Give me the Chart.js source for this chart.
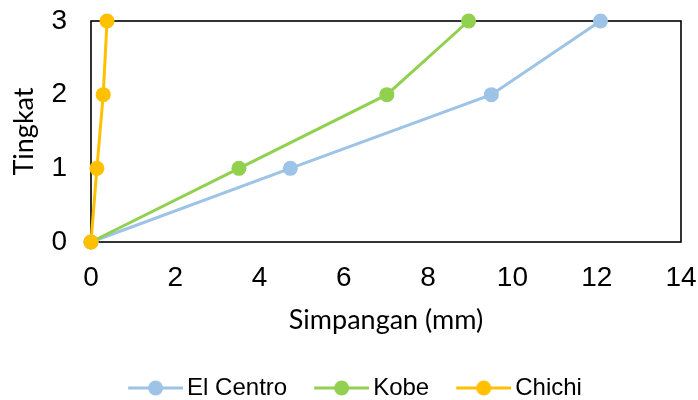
<!DOCTYPE html>
<html>
<head>
<meta charset="utf-8">
<script src="https://cdn.jsdelivr.net/npm/chart.js@4.4.1/dist/chart.umd.min.js"></script>
<style>
  html, body { margin: 0; padding: 0; background: #fff; }
  #c { display: block; }
</style>
</head>
<body>
<canvas id="c" width="698" height="400"></canvas>
<script>
// ---- data ----
const levels    = [0, 1, 2, 3];
const elCentro  = [0, 4.73, 9.50, 12.09];
const kobe      = [0, 3.51, 7.02, 8.96];
const chichi    = [0, 0.14, 0.29, 0.38];
const seriesNames  = ['El Centro', 'Kobe', 'Chichi'];
const seriesColors = ['#9DC3E6', '#92D050', '#FFC000'];
const xTitle = 'Simpangan (mm)';
const yTitle = 'Tingkat';

const seriesValues = [elCentro, kobe, chichi];

function toPoints(xs) {
  return xs.map((x, i) => ({ x: x, y: levels[i] }));
}

function legendMarker(color) {
  const cv = document.createElement('canvas');
  cv.width = 90; cv.height = 18;
  const g = cv.getContext('2d');
  g.strokeStyle = color;
  g.lineWidth = 3;
  g.beginPath();
  g.moveTo(35, 9);
  g.lineTo(90, 9);
  g.stroke();
  g.fillStyle = color;
  g.beginPath();
  g.arc(62.5, 9, 7.5, 0, Math.PI * 2);
  g.fill();
  return cv;
}
const markers = seriesColors.map(legendMarker);

const framePlugin = {
  id: 'frame',
  beforeDatasetsDraw(chart) {
    const a = chart.chartArea;
    const ctx = chart.ctx;
    ctx.save();
    ctx.strokeStyle = '#000';
    ctx.lineWidth = 1.6;
    ctx.strokeRect(a.left, a.top, a.right - a.left, a.bottom - a.top);
    ctx.restore();
  }
};

const datasets = seriesNames.map((name, i) => ({
  label: name,
  data: toPoints(seriesValues[i]),
  showLine: true,
  borderColor: seriesColors[i],
  backgroundColor: seriesColors[i],
  borderWidth: 3,
  pointRadius: 7.5,
  pointHoverRadius: 7.5,
  pointBorderWidth: 0,
  pointBackgroundColor: seriesColors[i],
  clip: false,
  order: seriesNames.length - i
}));

new Chart(document.getElementById('c'), {
  type: 'scatter',
  data: { datasets: datasets },
  plugins: [framePlugin],
  options: {
    responsive: false,
    animation: false,
    layout: { padding: { left: 2, right: 17, top: 21, bottom: 0 } },
    plugins: {
      tooltip: { enabled: false },
      legend: {
        position: 'bottom',
        maxHeight: 24,
        labels: {
          usePointStyle: true,
          pointStyleWidth: 74,
          padding: 0,
          color: '#000',
          font: { family: 'Liberation Sans, Arial, sans-serif', size: 24 },
          generateLabels(chart) {
            return chart.data.datasets.map((ds, i) => ({
              text: ds.label,
              fillStyle: ds.borderColor,
              strokeStyle: ds.borderColor,
              fontColor: '#000',
              lineWidth: 0,
              pointStyle: markers[i],
              hidden: false,
              datasetIndex: i
            }));
          }
        }
      }
    },
    scales: {
      x: {
        type: 'linear',
        min: 0, max: 14,
        grid: { display: false, drawTicks: false },
        border: { display: false },
        ticks: {
          stepSize: 2,
          padding: 19,
          color: '#000',
          font: { family: 'Liberation Sans, Arial, sans-serif', size: 28 }
        },
        title: {
          display: true,
          text: xTitle,
          color: '#000',
          padding: { top: 0, bottom: 40 },
          font: { family: 'Lato, sans-serif', size: 27 }
        },
        afterFit(scale) {
          scale.height = 134;
          scale.paddingLeft = 0;
          scale.paddingRight = 0;
        }
      },
      y: {
        type: 'linear',
        min: 0, max: 3,
        grid: { display: false, drawTicks: false },
        border: { display: false },
        ticks: {
          stepSize: 1,
          padding: 24,
          color: '#000',
          font: { family: 'Liberation Sans, Arial, sans-serif', size: 28 }
        },
        title: {
          display: true,
          text: yTitle,
          color: '#000',
          padding: { top: 6, bottom: 0 },
          font: { family: 'Lato, sans-serif', size: 27 }
        },
        afterFit(scale) {
          scale.width = 89;
          scale.paddingTop = 0;
          scale.paddingBottom = 0;
        }
      }
    }
  }
});
</script>
</body>
</html>
